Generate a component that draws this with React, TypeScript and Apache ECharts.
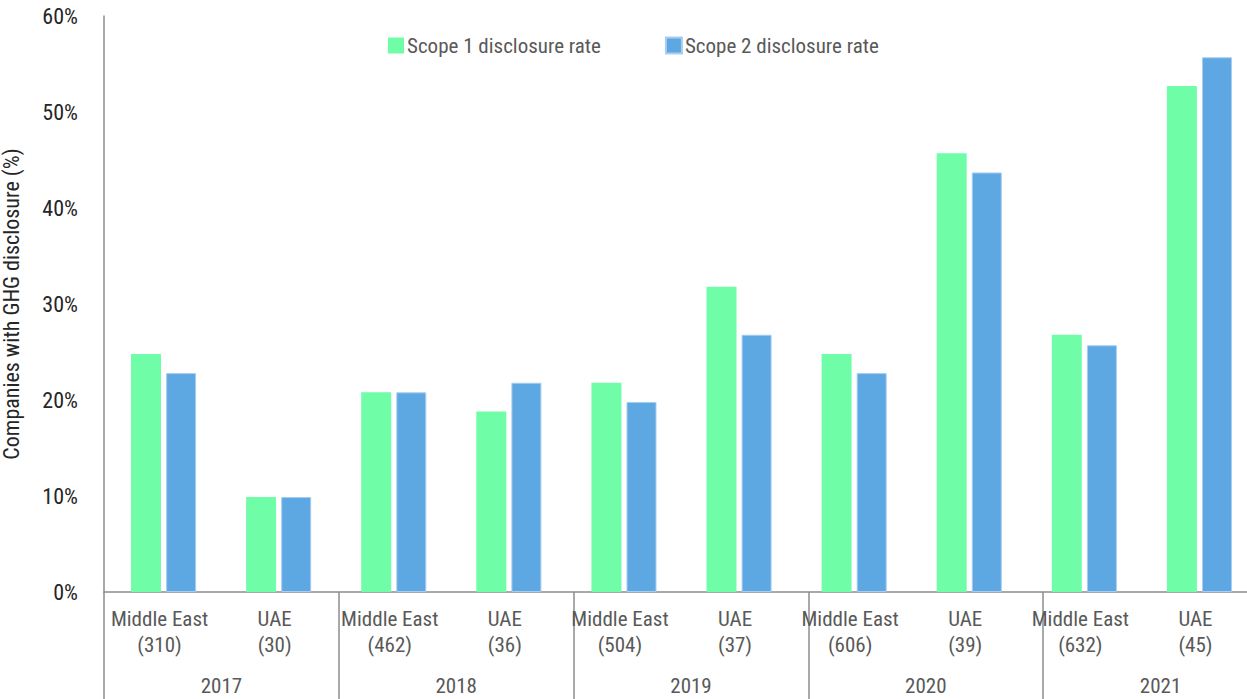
import React, { useEffect, useRef } from "react";
import * as echarts from "echarts";

const years = ["2017", "2018", "2019", "2020", "2021"];
const regions = ["Middle East", "UAE"];
const companyCounts = [310, 30, 462, 36, 504, 37, 606, 39, 632, 45];
const scope1 = [24.8, 9.9, 20.8, 18.8, 21.8, 31.8, 24.8, 45.7, 26.8, 52.7];
const scope2 = [22.8, 9.9, 20.8, 21.8, 19.8, 26.8, 22.8, 43.7, 25.7, 55.7];
const seriesNames = ["Scope 1 disclosure rate", "Scope 2 disclosure rate"];
const yMin = 0;
const yMax = 60;
const yStep = 10;

const FONT = "'Roboto Condensed', 'DejaVu Sans Condensed', sans-serif";

export default function App() {
  const ref = useRef<HTMLDivElement>(null);

  useEffect(() => {
    if (!ref.current) return;
    const chart = echarts.init(ref.current, undefined, { renderer: "svg" });
    const categories = companyCounts.map(
      (c, i) => `${regions[i % regions.length]}\n(${c})`
    );
    chart.setOption({
      animation: false,
      backgroundColor: "#ffffff",
      textStyle: { fontFamily: FONT },
      legend: {
        data: seriesNames,
        left: 383,
        top: 30,
        icon: "rect",
        itemWidth: 16,
        itemHeight: 16,
        itemGap: 64,
        textStyle: { fontFamily: FONT, fontSize: 21, color: "#595959", padding: [0, 0, 0, -2] },
      },
      grid: [
        {
          left: 106,
          width: 1151,
          top: 16,
          bottom: 107,
          containLabel: false,
          outerBoundsMode: "none",
        },
        {
          left: 104,
          width: 1174,
          top: 16,
          bottom: 107,
          containLabel: false,
          outerBoundsMode: "none",
        },
      ],
      xAxis: [
        {
          type: "category",
          gridIndex: 0,
          data: categories,
          axisLine: { show: false },
          axisTick: { show: false },
          axisLabel: {
            interval: 0,
            margin: 14,
            fontFamily: FONT,
            fontSize: 21,
            lineHeight: 26,
            color: "#595959",
            align: "center",
            padding: [0, 8, 0, 0],
          },
        },
        {
          type: "category",
          gridIndex: 1,
          data: years,
          axisLine: { show: true, lineStyle: { color: "#8c8c8c", width: 1.5 } },
          axisTick: {
            show: true,
            interval: 0,
            length: 108,
            lineStyle: { color: "#8c8c8c", width: 1.5 },
          },
          axisLabel: {
            interval: 0,
            margin: 83,
            fontFamily: FONT,
            fontSize: 21,
            color: "#595959",
          },
        },
      ],
      yAxis: [
        {
          type: "value",
          gridIndex: 0,
          min: yMin,
          max: yMax,
          interval: yStep,
          offset: 2,
          name: "Companies with GHG disclosure (%)",
          nameLocation: "middle",
          nameGap: 82,
          nameTextStyle: { fontFamily: FONT, fontSize: 22, color: "#262626" },
          axisLine: { show: true, lineStyle: { color: "#8c8c8c", width: 1.5 } },
          axisTick: { show: false },
          splitLine: { show: false },
          axisLabel: {
            formatter: "{value}%",
            margin: 26,
            fontFamily: FONT,
            fontSize: 22,
            color: "#262626",
          },
        },
        {
          type: "value",
          gridIndex: 1,
          min: 0,
          max: 1,
          show: false,
        },
      ],
      series: [
        {
          name: seriesNames[0],
          type: "bar",
          xAxisIndex: 0,
          yAxisIndex: 0,
          data: scope1,
          barWidth: 30,
          barGap: "17%",
          itemStyle: { color: "#70fda7" },
        },
        {
          name: seriesNames[1],
          type: "bar",
          xAxisIndex: 0,
          yAxisIndex: 0,
          data: scope2,
          barWidth: 30,
          barGap: "17%",
          itemStyle: { color: "#5da8e2", borderColor: "#a9cdf0", borderWidth: 1 },
        },
      ],
    });
    return () => chart.dispose();
  }, []);

  return (
    <div
      ref={ref}
      style={{ position: "fixed", left: 0, top: 0, width: 1247, height: 699 }}
    />
  );
}
